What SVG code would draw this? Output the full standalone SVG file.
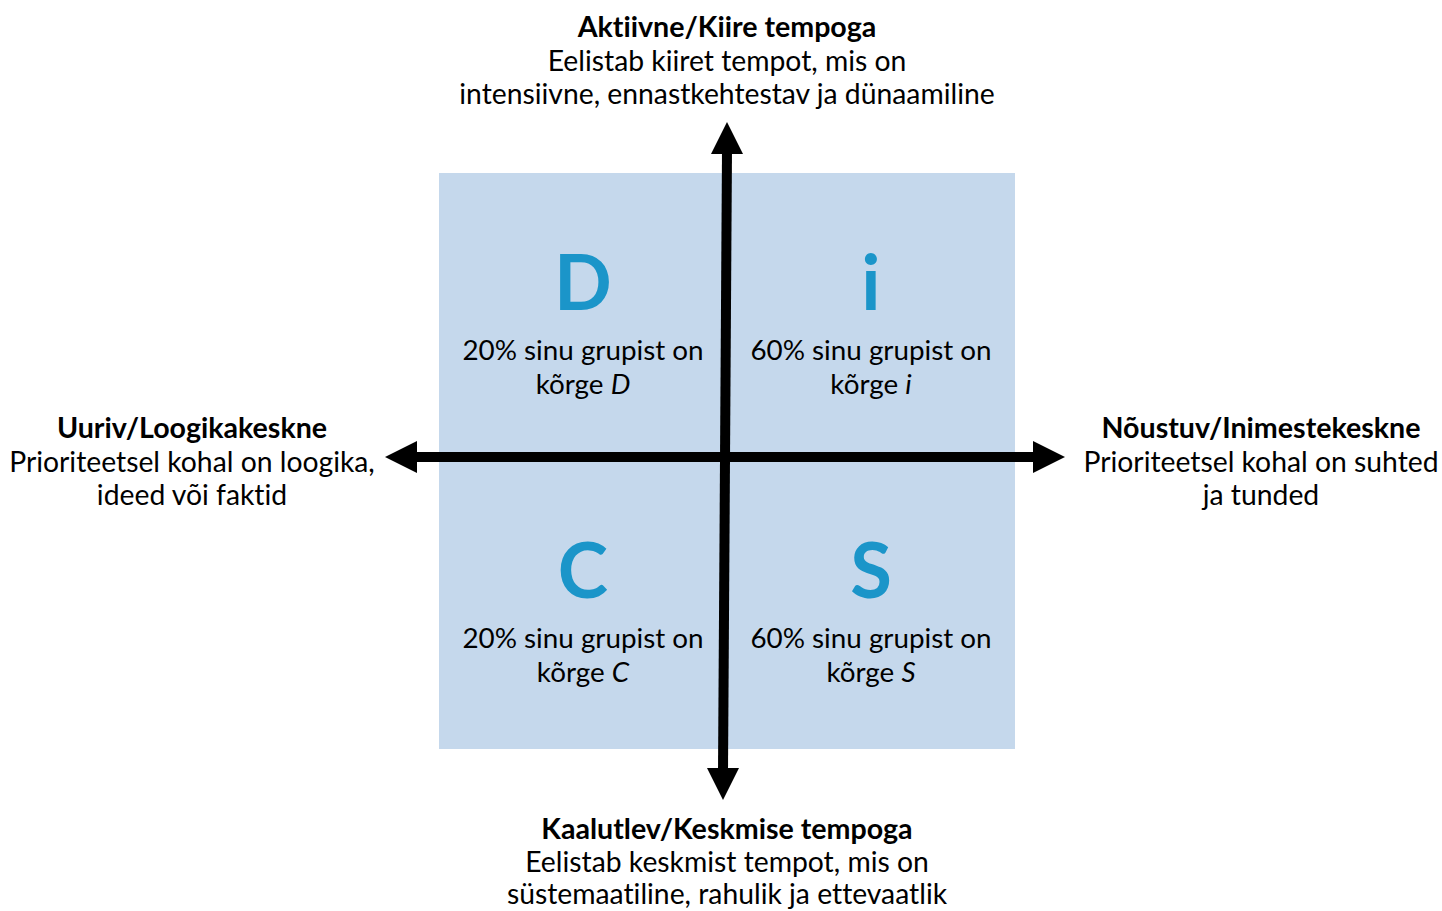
<svg xmlns="http://www.w3.org/2000/svg" width="1442" height="911" viewBox="0 0 1442 911">
<style>
text{font-family:"Lato","Open Sans","Liberation Sans",sans-serif;fill:#000;text-anchor:middle;font-variant-ligatures:none;font-feature-settings:"liga" 0,"dlig" 0}
.t{font-size:28.3px}
.b{font-size:28.6px;font-weight:bold}
.L{font-size:76px;font-weight:bold;fill:#1b95c9}
.q{font-size:27.8px}
</style>
<rect id="bg" x="0" y="0" width="1442" height="911" fill="#fff"/>
<g id="quadrants">
<rect x="439" y="173" width="576" height="576" fill="#c5d8ec"/>
</g>
<g id="connectors" fill="#000">
<line x1="727" y1="150" x2="723" y2="772" stroke="#000" stroke-width="10"/>
<line x1="414" y1="457" x2="1036" y2="457" stroke="#000" stroke-width="10"/>
<polygon points="727,122 743,154 711,154"/>
<polygon points="723,800 739,768 707,768"/>
<polygon points="1065,457 1033,441 1033,473"/>
<polygon points="385,457 417,441 417,473"/>
</g>
<g id="top">
<text class="b" x="727" y="37">Aktiivne/Kiire tempoga</text>
<text class="t" x="727" y="71">Eelistab kiiret tempot, mis on</text>
<text class="t" x="727" y="104">intensiivne, ennastkehtestav ja dünaamiline</text>
</g>
<g id="left">
<text class="b" x="192" y="438">Uuriv/Loogikakeskne</text>
<text class="t" x="192" y="472">Prioriteetsel kohal on loogika,</text>
<text class="t" x="192" y="505">ideed või faktid</text>
</g>
<g id="right">
<text class="b" x="1261" y="438">Nõustuv/Inimestekeskne</text>
<text class="t" x="1261" y="472">Prioriteetsel kohal on suhted</text>
<text class="t" x="1261" y="505">ja tunded</text>
</g>
<g id="bottom">
<text class="b" x="727" y="839">Kaalutlev/Keskmise tempoga</text>
<text class="t" x="727" y="872">Eelistab keskmist tempot, mis on</text>
<text class="t" x="727" y="904">süstemaatiline, rahulik ja ettevaatlik</text>
</g>
<g id="qD">
<text class="L" x="583" y="310">D</text>
<text class="q" x="583" y="360">20% sinu grupist on</text>
<text class="q" x="583" y="394">kõrge <tspan font-style="italic">D</tspan></text>
</g>
<g id="qi">
<text class="L" x="871" y="310">i</text>
<text class="q" x="871" y="360">60% sinu grupist on</text>
<text class="q" x="871" y="394">kõrge <tspan font-style="italic">i</tspan></text>
</g>
<g id="qC">
<text class="L" x="583" y="598">C</text>
<text class="q" x="583" y="648">20% sinu grupist on</text>
<text class="q" x="583" y="682">kõrge <tspan font-style="italic">C</tspan></text>
</g>
<g id="qS">
<text class="L" x="871" y="598">S</text>
<text class="q" x="871" y="648">60% sinu grupist on</text>
<text class="q" x="871" y="682">kõrge <tspan font-style="italic">S</tspan></text>
</g>
</svg>
